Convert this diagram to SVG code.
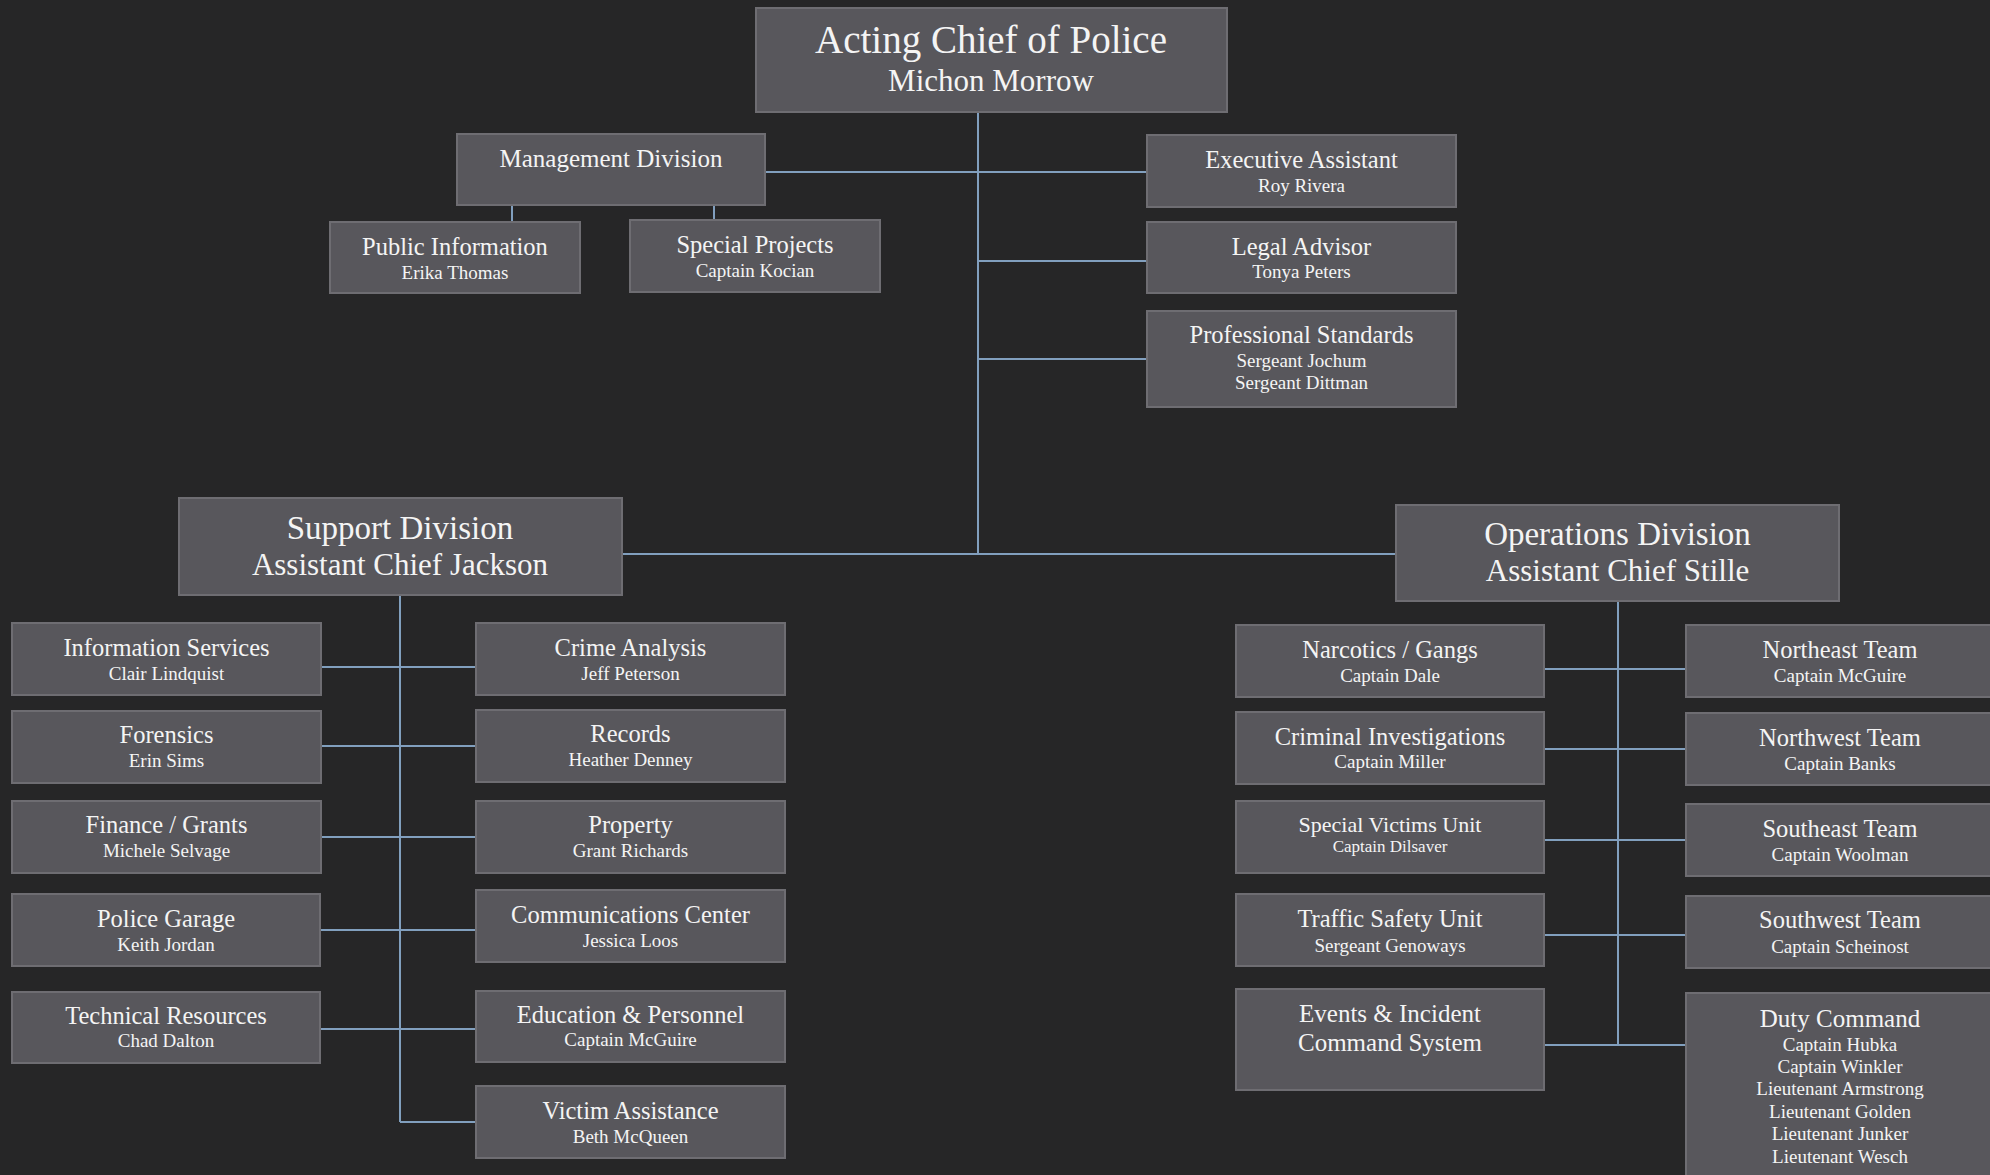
<svg xmlns="http://www.w3.org/2000/svg" width="1990" height="1175" viewBox="0 0 1990 1175">
<style>
.bg{fill:#262627}
.box{fill:#58575c;stroke:#6e6d72;stroke-width:2}
.t{font-family:"Liberation Serif","Times New Roman",serif;fill:#f4f4f4;text-anchor:middle}
.h1{font-size:39px}
.h0{font-size:31px}
.hd{font-size:33px}
.hs{font-size:31px}
.ti{font-size:24.5px}
.su{font-size:19px}
.con{stroke:#819fbe;stroke-width:2;fill:none}
</style>
<rect class="bg" x="0" y="0" width="1990" height="1175"/>
<g id="connectors">
<path class="con" d="M978 112V554M765 172H1147M978 261H1147M978 359H1147M622 554H1396"/>
<path class="con" d="M512 205V222M714 205V220"/>
<path class="con" d="M400 595V1122M321 667H476M321 746H476M321 837H476M320 930H476M321 1029H476M400 1122H476"/>
<path class="con" d="M1618 601V1045M1544 669H1686M1544 749H1686M1544 840H1686M1544 935H1686M1544 1045H1686"/>
</g>
<g id="chief"><rect class="box" x="756" y="8" width="471" height="104"/><text class="t h1" x="991" y="53">Acting Chief of Police</text><text class="t h0" x="991" y="91">Michon Morrow</text></g>
<g id="management"><rect class="box" x="457" y="134" width="308" height="71"/><text class="t" style="font-size:25px" x="611" y="167">Management Division</text></g>
<g id="public-information"><rect class="box" x="330" y="222" width="250" height="71"/><text class="t ti" x="455" y="255">Public Information</text><text class="t su" x="455" y="279">Erika Thomas</text></g>
<g id="special-projects"><rect class="box" x="630" y="220" width="250" height="72"/><text class="t ti" x="755" y="253">Special Projects</text><text class="t su" x="755" y="277">Captain Kocian</text></g>
<g id="executive-assistant"><rect class="box" x="1147" y="135" width="309" height="72"/><text class="t ti" x="1301.5" y="168">Executive Assistant</text><text class="t su" x="1301.5" y="192">Roy Rivera</text></g>
<g id="legal-advisor"><rect class="box" x="1147" y="222" width="309" height="71"/><text class="t ti" x="1301.5" y="255">Legal Advisor</text><text class="t su" x="1301.5" y="278">Tonya Peters</text></g>
<g id="professional-standards"><rect class="box" x="1147" y="311" width="309" height="96"/><text class="t ti" x="1301.5" y="343">Professional Standards</text><text class="t su" x="1301.5" y="367">Sergeant Jochum</text><text class="t su" x="1301.5" y="389">Sergeant Dittman</text></g>
<g id="support"><rect class="box" x="179" y="498" width="443" height="97"/><text class="t hd" x="400" y="539">Support Division</text><text class="t hs" x="400" y="575">Assistant Chief Jackson</text></g>
<g id="information-services"><rect class="box" x="12" y="623" width="309" height="72"/><text class="t ti" x="166.5" y="656">Information Services</text><text class="t su" x="166.5" y="680">Clair Lindquist</text></g>
<g id="crime-analysis"><rect class="box" x="476" y="623" width="309" height="72"/><text class="t ti" x="630.5" y="656">Crime Analysis</text><text class="t su" x="630.5" y="680">Jeff Peterson</text></g>
<g id="forensics"><rect class="box" x="12" y="711" width="309" height="72"/><text class="t ti" x="166.5" y="743">Forensics</text><text class="t su" x="166.5" y="767">Erin Sims</text></g>
<g id="records"><rect class="box" x="476" y="710" width="309" height="72"/><text class="t ti" x="630.5" y="742">Records</text><text class="t su" x="630.5" y="766">Heather Denney</text></g>
<g id="finance"><rect class="box" x="12" y="801" width="309" height="72"/><text class="t ti" x="166.5" y="833">Finance / Grants</text><text class="t su" x="166.5" y="857">Michele Selvage</text></g>
<g id="property"><rect class="box" x="476" y="801" width="309" height="72"/><text class="t ti" x="630.5" y="833">Property</text><text class="t su" x="630.5" y="857">Grant Richards</text></g>
<g id="police-garage"><rect class="box" x="12" y="894" width="308" height="72"/><text class="t ti" x="166" y="927">Police Garage</text><text class="t su" x="166" y="951">Keith Jordan</text></g>
<g id="communications"><rect class="box" x="476" y="890" width="309" height="72"/><text class="t ti" x="630.5" y="923">Communications Center</text><text class="t su" x="630.5" y="947">Jessica Loos</text></g>
<g id="technical-resources"><rect class="box" x="12" y="992" width="308" height="71"/><text class="t ti" x="166" y="1024">Technical Resources</text><text class="t su" x="166" y="1047">Chad Dalton</text></g>
<g id="education"><rect class="box" x="476" y="991" width="309" height="71"/><text class="t ti" x="630.5" y="1023">Education &amp; Personnel</text><text class="t su" x="630.5" y="1046">Captain McGuire</text></g>
<g id="victim-assistance"><rect class="box" x="476" y="1086" width="309" height="72"/><text class="t ti" x="630.5" y="1119">Victim Assistance</text><text class="t su" x="630.5" y="1143">Beth McQueen</text></g>
<g id="operations"><rect class="box" x="1396" y="505" width="443" height="96"/><text class="t hd" x="1617.5" y="545">Operations Division</text><text class="t hs" x="1617.5" y="581">Assistant Chief Stille</text></g>
<g id="narcotics"><rect class="box" x="1236" y="625" width="308" height="72"/><text class="t ti" x="1390" y="658">Narcotics / Gangs</text><text class="t su" x="1390" y="682">Captain Dale</text></g>
<g id="northeast"><rect class="box" x="1686" y="625" width="310" height="72"/><text class="t ti" x="1840" y="658">Northeast Team</text><text class="t su" x="1840" y="682">Captain McGuire</text></g>
<g id="criminal-investigations"><rect class="box" x="1236" y="712" width="308" height="72"/><text class="t ti" x="1390" y="745">Criminal Investigations</text><text class="t su" x="1390" y="768">Captain Miller</text></g>
<g id="northwest"><rect class="box" x="1686" y="713" width="310" height="72"/><text class="t ti" x="1840" y="746">Northwest Team</text><text class="t su" x="1840" y="770">Captain Banks</text></g>
<g id="special-victims"><rect class="box" x="1236" y="801" width="308" height="72"/><text class="t" style="font-size:22px" x="1390" y="832">Special Victims Unit</text><text class="t" style="font-size:17px" x="1390" y="852">Captain Dilsaver</text></g>
<g id="southeast"><rect class="box" x="1686" y="804" width="310" height="72"/><text class="t ti" x="1840" y="837">Southeast Team</text><text class="t su" x="1840" y="861">Captain Woolman</text></g>
<g id="traffic-safety"><rect class="box" x="1236" y="894" width="308" height="72"/><text class="t ti" x="1390" y="927">Traffic Safety Unit</text><text class="t su" x="1390" y="952">Sergeant Genoways</text></g>
<g id="southwest"><rect class="box" x="1686" y="896" width="310" height="72"/><text class="t ti" x="1840" y="928">Southwest Team</text><text class="t su" x="1840" y="953">Captain Scheinost</text></g>
<g id="events-incident"><rect class="box" x="1236" y="989" width="308" height="101"/><text class="t" style="font-size:25px" x="1390" y="1022">Events &amp; Incident</text><text class="t" style="font-size:25px" x="1390" y="1051">Command System</text></g>
<g id="duty-command"><rect class="box" x="1686" y="993" width="310" height="200"/><text class="t" style="font-size:25px" x="1840" y="1027">Duty Command</text><text class="t su" x="1840" y="1051">Captain Hubka</text><text class="t su" x="1840" y="1073">Captain Winkler</text><text class="t su" x="1840" y="1095">Lieutenant Armstrong</text><text class="t su" x="1840" y="1118">Lieutenant Golden</text><text class="t su" x="1840" y="1140">Lieutenant Junker</text><text class="t su" x="1840" y="1163">Lieutenant Wesch</text></g>
</svg>
